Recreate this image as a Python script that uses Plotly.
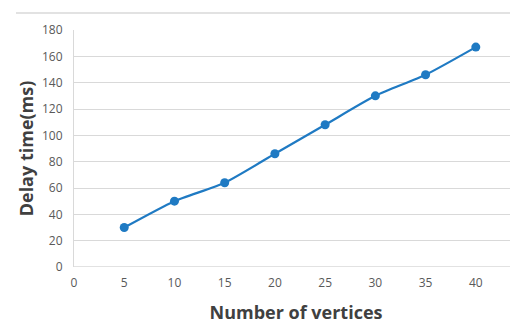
import plotly.graph_objects as go

vertices = [5, 10, 15, 20, 25, 30, 35, 40]
delay_ms = [30, 50, 64, 86, 108, 130, 146, 167]
x_ticks = [0, 5, 10, 15, 20, 25, 30, 35, 40]
y_ticks = [0, 20, 40, 60, 80, 100, 120, 140, 160, 180]

fig = go.Figure()
fig.add_trace(go.Scatter(
    x=vertices, y=delay_ms, mode="lines+markers",
    line=dict(color="#1f7ac3", width=2.2, shape="spline", smoothing=0.6),
    marker=dict(color="#1f7ac3", size=9),
    showlegend=False,
))

# page has an 8px body margin, so offset layout accordingly
OFF = 8
L, T, B = 74 - OFF, 30 - OFF, 66
W, H = 518 - OFF, 333 - OFF
plot_w = W - L
plot_h = H - T - B

fig.update_layout(
    width=W, height=H,
    margin=dict(l=L, r=0, t=T, b=B, autoexpand=False),
    paper_bgcolor="white", plot_bgcolor="white",
    font=dict(family="Open Sans, Liberation Sans, sans-serif", color="#595959", size=12),
    xaxis=dict(
        range=[0, 44.2], tickvals=x_ticks, ticktext=[str(v) for v in x_ticks],
        showgrid=False, zeroline=False, showline=False, ticks="",
        ticklabelstandoff=7, automargin=False,
        title=dict(text="<b>Number of vertices</b>", font=dict(size=18, color="#404040"), standoff=16),
    ),
    yaxis=dict(
        range=[0, 180], tickvals=y_ticks, ticktext=[str(v) for v in y_ticks],
        showgrid=True, gridcolor="#d9d9d9", gridwidth=1,
        zeroline=False, showline=True, linecolor="#d9d9d9", linewidth=1, ticks="",
        ticklabelstandoff=8, automargin=False,
        title=dict(text="<b>Delay time(ms)</b>", font=dict(size=18, color="#404040"), standoff=3),
    ),
    shapes=[
        dict(type="line", xref="paper", yref="paper",
             x0=(16 - 74) / plot_w, x1=1.0, y0=(267 - 13) / plot_h, y1=(267 - 13) / plot_h,
             line=dict(color="#d9d9d9", width=1.5)),
        dict(type="line", xref="paper", yref="y", x0=0, x1=1, y0=0, y1=0,
             line=dict(color="#d9d9d9", width=1.5)),
    ],
)

fig.write_html("out.html")
